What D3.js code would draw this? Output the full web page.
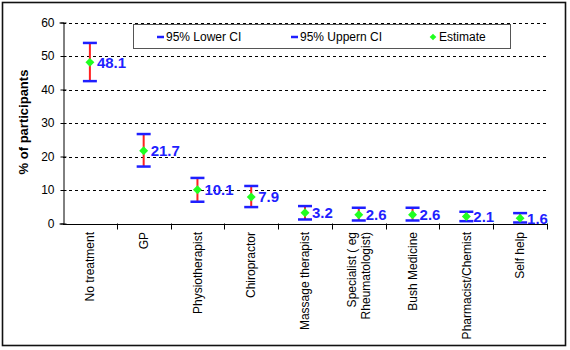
<html lang="en">
<head>
<meta charset="UTF-8">
<title>Treatment chart</title>
<style>
  body { margin: 0; background: #fff; font-family: Arial, "Liberation Sans", sans-serif; }
  svg text { font-family: Arial, "Liberation Sans", sans-serif; }
</style>
<script src="https://d3js.org/d3.v7.min.js"></script>
</head>
<body>
<svg id="chart" width="570" height="350"></svg>
<script>
const categories = ["No treatment", "GP", "Physiotherapist", "Chiropractor", "Massage therapist",
  "Specialist ( eg|Rheumatologist)", "Bush Medicine", "Pharmacist/Chemist", "Self help"];
const estimates = [48.1, 21.7, 10.1, 7.9, 3.2, 2.6, 2.6, 2.1, 1.6];
const lowerCI = [42.5, 17.0, 6.5, 4.9, 1.2, 0.9, 0.9, 0.7, 0.3];
const upperCI = [53.9, 26.7, 13.6, 11.2, 5.2, 4.7, 4.7, 3.5, 3.1];
const yTicks = [0, 10, 20, 30, 40, 50, 60];

const svg = d3.select("#chart");
const margin = { left: 63, right: 547, top: 22.5, bottom: 223.5 };

// outer frame
svg.append("rect")
  .attr("x", 2.5).attr("y", 2.5).attr("width", 563).attr("height", 343)
  .attr("fill", "#fff").attr("stroke", "#111").attr("stroke-width", 1.6);

const x = d3.scaleBand().domain(categories).range([margin.left, margin.right]);
const y = d3.scaleLinear().domain([0, 60]).range([margin.bottom, margin.top]);

// grid lines
svg.append("g").selectAll("line").data(yTicks.filter(d => d > 0)).join("line")
  .attr("x1", margin.left).attr("x2", margin.right)
  .attr("y1", d => Math.round(y(d)) + 0.5).attr("y2", d => Math.round(y(d)) + 0.5)
  .attr("stroke", "#000").attr("stroke-dasharray", "3,3");

// y axis
const yAxis = svg.append("g").attr("transform", `translate(${margin.left + 0.5},0)`)
  .call(d3.axisLeft(y).tickValues(yTicks).tickSize(4).tickPadding(5));
yAxis.select(".domain").attr("stroke", "#000");
yAxis.selectAll(".tick line").attr("x2", 3).attr("x1", -3).attr("stroke", "#000");
yAxis.selectAll("text").attr("font-size", 12).attr("fill", "#000").attr("font-family", "Arial, Liberation Sans, sans-serif");

// x axis
const xAxis = svg.append("g").attr("transform", `translate(0,${Math.round(y(0)) + 0.5})`);
xAxis.append("line").attr("x1", margin.left).attr("x2", margin.right).attr("stroke", "#000");
const bounds = categories.map(c => x(c)).concat([margin.right]);
xAxis.selectAll("line.tk").data(bounds.slice(1)).join("line").attr("class", "tk")
  .attr("x1", d => Math.round(d) + 0.5).attr("x2", d => Math.round(d) + 0.5)
  .attr("y1", -1).attr("y2", 5).attr("stroke", "#000");

// x labels rotated
categories.forEach(c => {
  const lines = c.split("|");
  const cx = x(c) + x.bandwidth() / 2;
  const t = svg.append("text")
    .attr("transform", `translate(${cx},232) rotate(-90)`)
    .attr("text-anchor", "end").attr("font-size", 12).attr("fill", "#000");
  lines.forEach((l, i) => {
    t.append("tspan").attr("x", 0)
      .attr("dy", i === 0 ? (lines.length === 1 ? "0.35em" : "-0.25em") : "1.2em")
      .text(l);
  });
});

// y axis title
svg.append("text")
  .attr("transform", `translate(28,122) rotate(-90)`)
  .attr("text-anchor", "middle").attr("font-size", 13).attr("font-weight", "bold")
  .text("% of participants");

// error bars
const cxOf = i => x(categories[i]) + x.bandwidth() / 2;
const g = svg.append("g");
estimates.forEach((v, i) => {
  const cx = cxOf(i);
  g.append("line").attr("x1", cx).attr("x2", cx)
    .attr("y1", y(lowerCI[i])).attr("y2", y(upperCI[i]))
    .attr("stroke", "#ff2020").attr("stroke-width", 2);
  [lowerCI[i], upperCI[i]].forEach(c => {
    g.append("line").attr("x1", cx - 7).attr("x2", cx + 7)
      .attr("y1", y(c)).attr("y2", y(c))
      .attr("stroke", "#1f1fff").attr("stroke-width", 2.5);
  });
});

// estimate markers (square turned 45 degrees)
const diamond = d3.symbol().type(d3.symbolSquare).size(40);
g.selectAll("path.est").data(estimates).join("path").attr("class", "est")
  .attr("d", diamond)
  .attr("transform", (d, i) => `translate(${cxOf(i)},${y(d)}) rotate(45)`)
  .attr("fill", "#20ff20");

// value labels
g.selectAll("text.val").data(estimates).join("text").attr("class", "val")
  .attr("x", (d, i) => cxOf(i) + 7).attr("y", d => y(d))
  .attr("dy", "0.36em").attr("font-size", 15).attr("font-weight", "bold")
  .attr("fill", "#1f1fff").text(d => d.toFixed(1));

// legend
const leg = svg.append("g");
leg.append("rect").attr("x", 133.5).attr("y", 24.5).attr("width", 377).attr("height", 24)
  .attr("fill", "#fff").attr("stroke", "#555").attr("stroke-width", 1);
const legItems = [
  { label: "95% Lower CI", x: 157, type: "dash" },
  { label: "95%  Uppern CI", x: 291, type: "dash" },
  { label: "Estimate", x: 430, type: "dot" }
];
legItems.forEach(it => {
  if (it.type === "dash") {
    leg.append("line").attr("x1", it.x).attr("x2", it.x + 7).attr("y1", 37).attr("y2", 37)
      .attr("stroke", "#1f1fff").attr("stroke-width", 2.5);
  } else {
    leg.append("path").attr("d", d3.symbol().type(d3.symbolSquare).size(22))
      .attr("transform", `translate(${it.x + 3},37) rotate(45)`).attr("fill", "#20ff20");
  }
  leg.append("text").attr("x", it.x + 9).attr("y", 37).attr("dy", "0.36em")
    .attr("font-size", 12).attr("fill", "#000").text(it.label);
});
</script>
</body>
</html>
